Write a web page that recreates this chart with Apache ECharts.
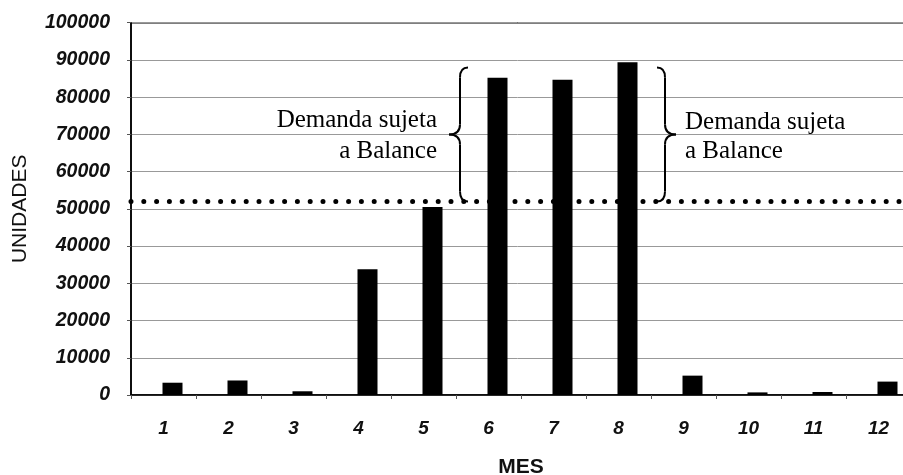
<!DOCTYPE html>
<html>
<head>
<meta charset="utf-8">
<script src="https://cdn.jsdelivr.net/npm/echarts@6/dist/echarts.min.js"></script>
<style>
html,body{margin:0;padding:0;background:#fff;}
#main{width:903px;height:475px;}
</style>
</head>
<body>
<div id="main"></div>
<script>
var meses = ['1','2','3','4','5','6','7','8','9','10','11','12'];
var unidades = [3300, 3900, 1000, 33800, 50500, 85200, 84700, 89400, 5200, 700, 800, 3600];
var limiteBalance = 52000;
var yMin = 0, yMax = 100000, yInterval = 10000;
var bracketRange = [52000, 88000];
var annotationText = 'Demanda sujeta\na Balance';
var xTitle = 'MES';
var yTitle = 'UNIDADES';

var chart = echarts.init(document.getElementById('main'), null, {renderer: 'canvas'});
var sansFont = '"Liberation Sans", Arial, sans-serif';
var serifFont = '"Liberation Serif", "Times New Roman", serif';

chart.setOption({
  backgroundColor: '#fff',
  animation: false,
  grid: {
    left: 131, top: 22.7, width: 780, height: 372.3,
    outerBoundsMode: 'none', containLabel: false,
    show: true, borderColor: '#000', borderWidth: 1.5, backgroundColor: 'transparent'
  },
  xAxis: {
    type: 'category',
    data: meses,
    name: xTitle,
    nameLocation: 'middle',
    nameGap: 62,
    nameTextStyle: {fontFamily: sansFont, fontWeight: 'bold', fontSize: 21, color: '#111'},
    axisLine: {lineStyle: {color: '#000', width: 1.5}},
    axisTick: {show: true, length: 4, lineStyle: {color: '#555'}},
    axisLabel: {fontFamily: sansFont, fontWeight: 'bold', fontStyle: 'italic', fontSize: 19, color: '#111', margin: 24},
    splitLine: {show: false}
  },
  yAxis: {
    type: 'value',
    min: yMin, max: yMax, interval: yInterval,
    name: yTitle,
    nameLocation: 'middle',
    nameGap: 100,
    nameRotate: 90,
    nameTextStyle: {fontFamily: sansFont, fontSize: 21, color: '#111'},
    axisLine: {show: true, lineStyle: {color: '#000', width: 1.5}},
    axisTick: {show: true, length: 4, lineStyle: {color: '#555'}},
    axisLabel: {fontFamily: sansFont, fontWeight: 'bold', fontStyle: 'italic', fontSize: 19.5, color: '#111', margin: 21,
      formatter: function (v) { return String(v); }},
    splitLine: {show: true, lineStyle: {color: '#999', width: 1}}
  },
  series: [
    {
      type: 'bar',
      data: meses.map(function(){ return 0; }),
      barWidth: 20,
      barGap: '-10%',
      itemStyle: {color: 'rgba(0,0,0,0)'},
      silent: true
    },
    {
      type: 'bar',
      data: unidades,
      barWidth: 20,
      itemStyle: {color: '#000'},
      markLine: {
        silent: true,
        symbol: ['none', 'none'],
        label: {show: false},
        data: [{yAxis: limiteBalance}],
        lineStyle: {color: '#000', width: 5, type: [0, 12.8], cap: 'round'}
      }
    }
  ]
});

function braceParts(x, yTop, yBot, w, dir) {
  // dir = -1 : tip points left "{" ; dir = 1 : tip points right "}"
  var yMid = (yTop + yBot) / 2;
  var r = 10;
  var e = x - dir * w;
  var t = x + dir * (w + 3);
  var st = {fill: null, stroke: '#000', lineWidth: 2};
  function q(x1, y1, cx, cy, x2, y2) {
    return {type: 'bezierCurve', shape: {x1: x1, y1: y1, cpx1: cx, cpy1: cy, x2: x2, y2: y2}, style: st};
  }
  function l(x1, y1, x2, y2) {
    return {type: 'line', shape: {x1: x1, y1: y1, x2: x2, y2: y2}, style: st};
  }
  return [
    q(e, yTop, x, yTop, x, yTop + r),
    l(x, yTop + r, x, yMid - r),
    q(x, yMid - r, x, yMid, t, yMid),
    q(t, yMid, x, yMid, x, yMid + r),
    l(x, yMid + r, x, yBot - r),
    q(x, yBot - r, x, yBot, e, yBot)
  ];
}

var c0 = chart.convertToPixel({xAxisIndex: 0}, 0);
var c1 = chart.convertToPixel({xAxisIndex: 0}, 1);
var cw = c1 - c0;
function boundary(i) { return c0 - cw / 2 + i * cw; }
var yTop = chart.convertToPixel({yAxisIndex: 0}, bracketRange[1]);
var yBot = chart.convertToPixel({yAxisIndex: 0}, bracketRange[0]);
var yMid = (yTop + yBot) / 2;

var leftX = boundary(5) + 4;
var rightX = boundary(8) + 14;

var elems = braceParts(leftX, yTop, yBot, 8, -1).concat(braceParts(rightX, yTop, yBot, 8, 1));
elems.push({type: 'text', x: leftX - 23, y: yMid + 2,
  style: {text: annotationText, font: '25px ' + serifFont, fill: '#000', align: 'right', verticalAlign: 'middle', lineHeight: 31}});
elems.push({type: 'text', x: rightX + 20, y: yMid + 3,
  style: {text: annotationText, font: '25px ' + serifFont, fill: '#000', align: 'left', verticalAlign: 'middle', lineHeight: 29}});

chart.setOption({graphic: elems});
</script>
</body>
</html>
